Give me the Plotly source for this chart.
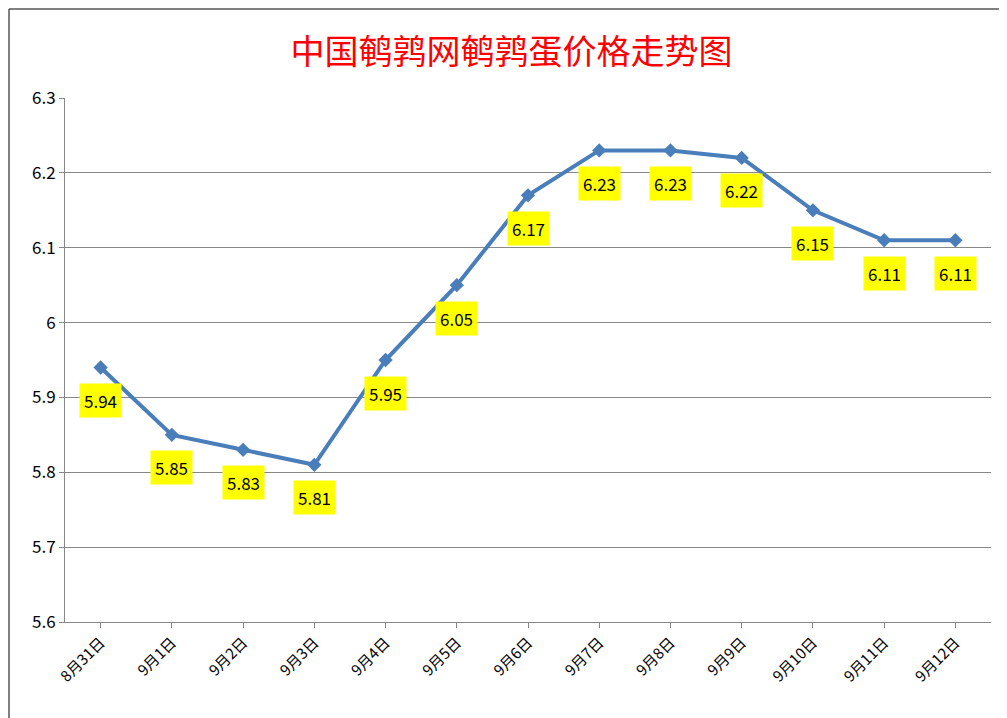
import plotly.graph_objects as go

dates = ["8月31日", "9月1日", "9月2日", "9月3日", "9月4日", "9月5日", "9月6日",
         "9月7日", "9月8日", "9月9日", "9月10日", "9月11日", "9月12日"]
prices = [5.94, 5.85, 5.83, 5.81, 5.95, 6.05, 6.17, 6.23, 6.23, 6.22, 6.15, 6.11, 6.11]

fig = go.Figure()
fig.add_trace(go.Scatter(
    x=dates, y=prices, mode="lines+markers",
    line=dict(color="#4a7ebb", width=4),
    marker=dict(symbol="diamond", size=11, color="#4a7ebb"),
))

for d, p in zip(dates, prices):
    fig.add_annotation(x=d, y=p, text=f"{p:.2f}", showarrow=False, yshift=-33,
                       bgcolor="#ffff00", font=dict(size=17, color="black"),
                       borderpad=4)

W, H = 926, 524
fig.update_layout(
    width=1007, height=718,
    paper_bgcolor="white", plot_bgcolor="white",
    margin=dict(l=57, r=24, t=90, b=104),
    showlegend=False,
    font=dict(family="Noto Sans CJK SC, Liberation Sans", color="black"),
    title=dict(text="中国鹌鹑网鹌鹑蛋价格走势图", x=0.5, y=0.955, xanchor="center",
               font=dict(size=34, color="#ff0000", family="Noto Sans CJK SC")),
    xaxis=dict(tickangle=-45, tickfont=dict(size=15), showline=True, automargin=False,
               range=[-0.5, 12.5],
               linecolor="#888", showgrid=False, ticks="outside", tickcolor="#888"),
    yaxis=dict(range=[5.6, 6.3], dtick=0.1, tickfont=dict(size=17), automargin=False,
               gridcolor="#888", gridwidth=1, showline=True, linecolor="#888",
               ticks="outside", tickcolor="#888", tickformat="~g"),
    shapes=[dict(type="rect", xref="paper", yref="paper",
                 x0=-56 / W, x1=1 + 22 / W,
                 y0=-102 / H, y1=1 + 89 / H, line=dict(color="black", width=1))],
)

fig.write_html("out.html")
